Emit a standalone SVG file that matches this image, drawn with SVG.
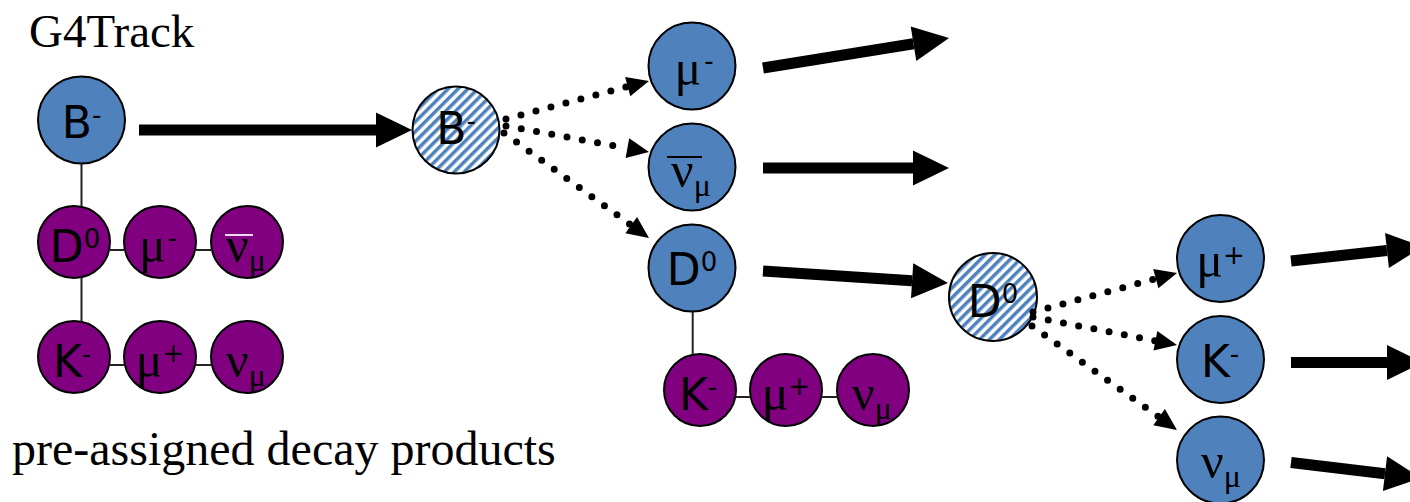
<svg xmlns="http://www.w3.org/2000/svg" width="1410" height="502" viewBox="0 0 1410 502">
<style>
.blue{fill:#4F81BD;stroke:#000;stroke-width:2}
.purp{fill:#800080;stroke:#000;stroke-width:2}
.hat{fill:url(#hatch);stroke:#000;stroke-width:2}
.lbl{font-family:"DejaVu Sans",sans-serif;font-size:44px;fill:#000;text-anchor:middle}
.gk{font-family:"Liberation Serif","DejaVu Serif",serif;font-size:50px;fill:#000;text-anchor:middle}
.sup{font-family:"DejaVu Sans",sans-serif;font-size:26px}
.sub{font-family:"Liberation Serif","DejaVu Serif",serif;font-size:32px}
.cap{font-family:"Liberation Serif",serif;font-size:47px;fill:#000}
.thin{stroke:#222;stroke-width:2;fill:none}
.thick{stroke:#000;stroke-width:11;fill:none;marker-end:url(#bigHead)}
.dot{stroke:#000;stroke-width:7;stroke-linecap:round;stroke-dasharray:0 15.5;fill:none;marker-end:url(#smallHead)}
.ovb{stroke:#000;stroke-width:2}
.ovw{stroke:#f2d8f2;stroke-width:2}
</style>
<defs>
<pattern id="hatch" patternUnits="userSpaceOnUse" width="7" height="7" patternTransform="rotate(45)">
<rect width="7" height="7" fill="#fff"/><rect width="3.5" height="7" fill="#4F81BD"/>
</pattern>
<marker id="bigHead" markerUnits="userSpaceOnUse" markerWidth="36" markerHeight="35" refX="0" refY="17.5" orient="auto" overflow="visible">
<path d="M0,0 L36,17.5 L0,35 Z" fill="#000"/>
</marker>
<marker id="smallHead" markerUnits="userSpaceOnUse" markerWidth="22" markerHeight="20" refX="0" refY="10" orient="auto" overflow="visible">
<path d="M0,0 L22,10 L0,20 Z" fill="#000"/>
</marker>
</defs>
<rect width="1410" height="502" fill="#fff"/>

<text class="cap" x="29" y="47">G4Track</text>
<text class="cap" x="12" y="465" style="font-size:48px">pre-assigned decay products</text>

<g id="n-B-left"><circle class="blue" cx="81.5" cy="120" r="43.5"/><text class="lbl" x="81.5" y="138">B<tspan class="sup" dy="-14">-</tspan></text></g>
<g id="n-D0-pre"><circle class="purp" cx="74" cy="242" r="36"/><text class="lbl" x="75" y="262">D<tspan class="sup" dy="-14">0</tspan></text></g>
<g id="n-mum-pre"><circle class="purp" cx="160" cy="242" r="36"/><text class="gk" x="158" y="262">μ<tspan class="sup" dy="-15" dx="2">-</tspan></text></g>
<g id="n-nubar-pre"><circle class="purp" cx="247" cy="242" r="36"/><text class="gk" x="246" y="262">ν<tspan class="sub" dy="9">μ</tspan></text><line class="ovw" x1="225" y1="235" x2="253" y2="235"/></g>
<g id="n-K-pre"><circle class="purp" cx="74" cy="357" r="36"/><text class="lbl" x="72" y="377">K<tspan class="sup" dy="-14">-</tspan></text></g>
<g id="n-mup-pre"><circle class="purp" cx="160" cy="357" r="36"/><text class="gk" x="160" y="377">μ<tspan class="sup" dy="-15">+</tspan></text></g>
<g id="n-nu-pre"><circle class="purp" cx="247" cy="357" r="36"/><text class="gk" x="246" y="377">ν<tspan class="sub" dy="9">μ</tspan></text></g>

<g id="n-B-decay"><circle class="hat" cx="456" cy="130" r="43.5"/><text class="lbl" x="456" y="144">B<tspan class="sup" dy="-14">-</tspan></text></g>
<g id="n-mum"><circle class="blue" cx="692" cy="66" r="43.5"/><text class="gk" x="694" y="85">μ<tspan class="sup" dy="-15" dx="3">-</tspan></text></g>
<g id="n-nubar"><circle class="blue" cx="692" cy="167" r="43.5"/><text class="gk" x="691" y="187">ν<tspan class="sub" dy="9">μ</tspan></text><line class="ovb" x1="667" y1="157" x2="702" y2="157"/></g>
<g id="n-D0"><circle class="blue" cx="692" cy="268" r="43.5"/><text class="lbl" x="692" y="285">D<tspan class="sup" dy="-14">0</tspan></text></g>
<g id="n-K-pre2"><circle class="purp" cx="700" cy="390" r="36"/><text class="lbl" x="698" y="410">K<tspan class="sup" dy="-14">-</tspan></text></g>
<g id="n-mup-pre2"><circle class="purp" cx="786" cy="390" r="36"/><text class="gk" x="786" y="410">μ<tspan class="sup" dy="-15">+</tspan></text></g>
<g id="n-nu-pre2"><circle class="purp" cx="873" cy="390" r="36"/><text class="gk" x="872" y="410">ν<tspan class="sub" dy="9">μ</tspan></text></g>

<g id="n-D0-decay"><circle class="hat" cx="993" cy="297" r="44"/><text class="lbl" x="993" y="317">D<tspan class="sup" dy="-14">0</tspan></text></g>
<g id="n-mup"><circle class="blue" cx="1220.5" cy="258.5" r="43.5"/><text class="gk" x="1220.5" y="277">μ<tspan class="sup" dy="-13">+</tspan></text></g>
<g id="n-K"><circle class="blue" cx="1220.5" cy="359.5" r="43.5"/><text class="lbl" x="1220" y="377">K<tspan class="sup" dy="-14">-</tspan></text></g>
<g id="n-nu"><circle class="blue" cx="1220.5" cy="460" r="43.5"/><text class="gk" x="1221" y="478">ν<tspan class="sub" dy="9">μ</tspan></text></g>

<g id="connectors">
<line class="thin" x1="81.5" y1="163.5" x2="81.5" y2="206.7"/>
<line class="thin" x1="81.5" y1="277.3" x2="81.5" y2="321.7"/>
<line class="thin" x1="109.1" y1="250" x2="124.9" y2="250"/>
<line class="thin" x1="195.1" y1="250" x2="211.9" y2="250"/>
<line class="thin" x1="109.1" y1="365" x2="124.9" y2="365"/>
<line class="thin" x1="195.1" y1="365" x2="211.9" y2="365"/>
<line class="thin" x1="692.7" y1="311.5" x2="692.7" y2="354.7"/>
<line class="thin" x1="735.3" y1="397" x2="750.7" y2="397"/>
<line class="thin" x1="821.3" y1="397" x2="837.7" y2="397"/>

<line class="thick" x1="139" y1="130" x2="376" y2="130"/>
<line class="thick" x1="763" y1="68" x2="913.5" y2="43.7"/>
<line class="thick" x1="763" y1="168" x2="913" y2="168"/>
<line class="thick" x1="763" y1="271" x2="912.1" y2="280.7"/>
<line class="thick" x1="1291" y1="261" x2="1387" y2="250.5"/>
<line class="thick" x1="1291" y1="362.5" x2="1387" y2="362.5"/>
<line class="thick" x1="1291" y1="462.5" x2="1385" y2="473.7"/>

<line class="dot" x1="506" y1="119" x2="627.7" y2="86.6"/>
<line class="dot" x1="506" y1="126" x2="627.4" y2="148.1"/>
<line class="dot" x1="504" y1="133" x2="631.2" y2="225.1"/>
<line class="dot" x1="1033" y1="312" x2="1155.8" y2="278.7"/>
<line class="dot" x1="1033" y1="317" x2="1155.4" y2="340.8"/>
<line class="dot" x1="1032" y1="326" x2="1159.1" y2="417.2"/>
</g>
</svg>
